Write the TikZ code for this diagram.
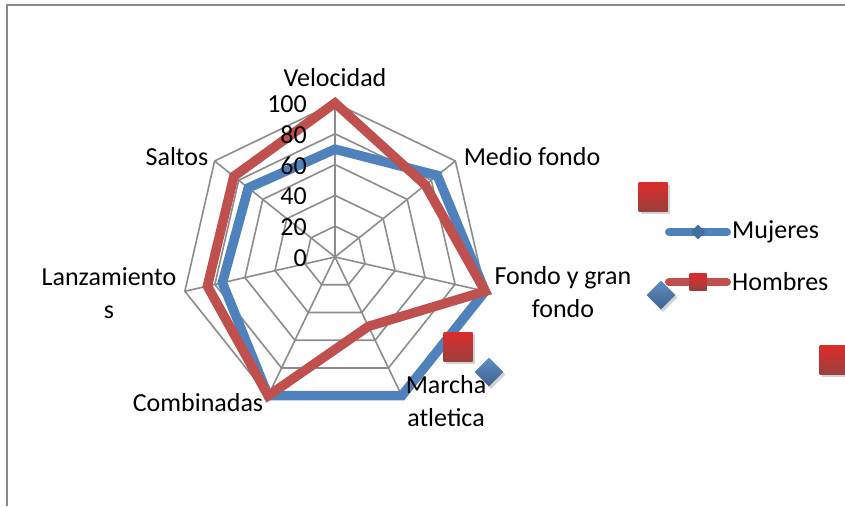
\documentclass[tikz,border=0pt]{standalone}
\usepackage{fontspec}
\setmainfont{Carlito}
\usetikzlibrary{calc,shadows,shapes.geometric}
\definecolor{serblue}{HTML}{4F81BD}
\definecolor{serred}{HTML}{C0504D}
\definecolor{gridgray}{HTML}{8C8C8C}
\definecolor{framegray}{HTML}{898989}
\tikzset{
  gridline/.style={draw=gridgray, line width=1.6},
  mseries/.style={draw=serblue, line width=9.5, line join=miter},
  hseries/.style={draw=serred, line width=9.5, line join=miter},
  lbl/.style={inner sep=0pt, align=center, font=\fontsize{26}{33}\selectfont},
  tick/.style={inner sep=0pt, anchor=east, font=\fontsize{26}{30}\selectfont},
  sqmark/.style={shape=rectangle, minimum size=#1, inner sep=0pt,
     top color=red!45!serred, bottom color=serred!80!black,
     drop shadow={shadow xshift=2pt, shadow yshift=-2.5pt, opacity=0.35}},
  dmmark/.style={shape=diamond, minimum width=#1, minimum height=#1, inner sep=0pt,
     top color=serblue!90!white, bottom color=serblue!75!black,
     drop shadow={shadow xshift=2pt, shadow yshift=-2.5pt, opacity=0.35}},
}
\begin{document}
\begin{tikzpicture}[x=1pt,y=-1pt]
\clip (0,0) rectangle (845,506);
\fill[white] (0,0) rectangle (845,506);
% frame
\draw[draw=framegray, line width=1.6] (7,506) -- (7,5) -- (845,5);
% center
\coordinate (O) at (335,257);
% grid rings
\foreach \r in {1,...,5}{
  \draw[gridline] ($(O)+(-90:\r*30.8)$)
    \foreach \k in {1,...,6}{ -- ($(O)+(-90+\k*360/7:\r*30.8)$) } -- cycle;
}
% spokes
\foreach \k in {0,...,6}{
  \coordinate (v\k) at ($(O)+(-90+\k*360/7:154)$);
  \draw[gridline] (O) -- (v\k);
}
% series coordinates
\foreach \v [count=\k from 0] in {70,85,100,100,100,75,72}
  \coordinate (m\k) at ($(O)+(-90+\k*360/7:1.54*\v)$);
\foreach \v [count=\k from 0] in {100,75,100,50,100,85,84}
  \coordinate (h\k) at ($(O)+(-90+\k*360/7:1.54*\v)$);
\draw[mseries] (m0) -- (m1) -- (m2) -- (m3) -- (m4) -- (m5) -- (m6) -- cycle;
\draw[hseries] (h0) -- (h1) -- (h2) -- (h3) -- (h4) -- (h5) -- (h6) -- cycle;
% axis values
\foreach \v in {0,20,40,60,80,100}
  \node[tick] (t\v) at (307,{258-1.54*\v}) {\v};
% category labels
\node[lbl] (cVel) at (335,78) {Velocidad};
\node[lbl] (cMed) at (532,157) {Medio fondo};
\node[lbl] (cFon) at (563,292) {Fondo y gran\\fondo};
\node[lbl] (cMar) at (446,401) {Marcha\\atletica};
\node[lbl] (cCom) at (198,403) {Combinadas};
\node[lbl] (cLan) at (109,293) {Lanzamiento\\s};
\node[lbl] (cSal) at (177,157) {Saltos};
% stray markers
\node[sqmark=29pt] (sq1) at (653,197) {};
\node[dmmark=29pt] (dm1) at (661,295) {};
\node[sqmark=29pt] (sq2) at (458,347) {};
\node[dmmark=29pt] (dm2) at (489,372) {};
\node[sqmark=29pt] (sq3) at (834,360) {};
% legend
\coordinate (lm1) at (669,232); \coordinate (lm2) at (727,232);
\draw[draw=serblue, line width=8, line cap=round] (lm1) -- (lm2);
\node[shape=diamond, minimum width=15pt, minimum height=15pt, inner sep=0pt, fill=serblue!85!black] (lmk) at (698,232) {};
\node[lbl, anchor=west] (lmt) at (732,232) {Mujeres};
\coordinate (lh1) at (669,282); \coordinate (lh2) at (727,282);
\draw[draw=serred, line width=8, line cap=round] (lh1) -- (lh2);
\node[shape=rectangle, minimum size=17pt, inner sep=0pt, top color=red!45!serred, bottom color=serred!80!black] (lhk) at (698,282) {};
\node[lbl, anchor=west] (lht) at (732,282) {Hombres};
\end{tikzpicture}
\end{document}
